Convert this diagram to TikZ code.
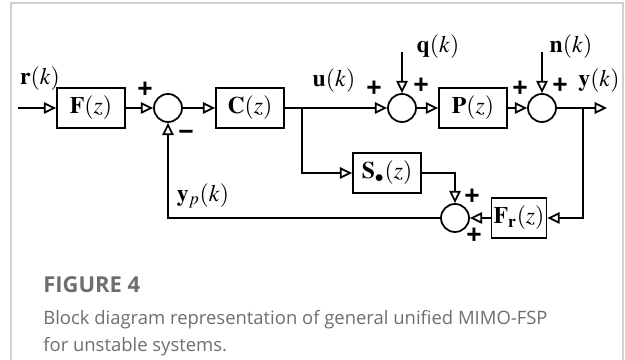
\documentclass[tikz,border=0pt]{standalone}
\usepackage{amsmath}
\usepackage{mathptmx}
\usepackage{fontspec}
\newfontfamily\capfont{Open Sans}
\newfontfamily\sgnfont{Liberation Sans}
\usepackage{xcolor}
\usetikzlibrary{arrows.meta,positioning}
\definecolor{framegray}{HTML}{CFCFCF}
\definecolor{capgray}{HTML}{6E6E6E}

\begin{document}
\begin{tikzpicture}[
  >={Triangle[open,length=7pt,width=6.5pt]}, font=\fontsize{13.5}{15}\selectfont,
  blk/.style={draw,line width=1pt,minimum width=1.36cm,minimum height=0.8cm,inner sep=0pt},
  sum/.style={circle,draw,line width=1pt,minimum size=0.56cm,inner sep=0pt},
  sig/.style={->,line width=1pt},
  wire/.style={line width=1pt},
  sgn/.style={font=\sgnfont\bfseries\fontsize{15}{16}\selectfont,inner sep=0pt},
  lab/.style={inner sep=1pt}
]
\useasboundingbox (0,0) rectangle (12.5,7.2);
\draw[framegray,line width=0.8pt] (0.22,0) -- (0.22,7.14) -- (12.46,7.14) -- (12.46,0);

% forward path
\coordinate (in) at (0.36,5.04);
\node[blk] (F)  at (1.82,5.04) {$\mathbf{F}(z)$};
\node[sum] (s1) at (3.36,5.04) {};
\node[blk] (C)  at (5.00,5.04) {$\mathbf{C}(z)$};
\coordinate (br1) at (6.04,5.04);
\node[sum] (s2) at (8.04,5.04) {};
\node[blk] (P)  at (9.46,5.04) {$\mathbf{P}(z)$};
\node[sum] (s3) at (10.84,5.04) {};
\coordinate (br2) at (11.66,5.04);
\coordinate (out) at (12.14,5.04);
\coordinate (qin) at (8.04,6.16);
\coordinate (nin) at (10.84,6.16);

% predictor path
\node[blk] (S)  at (7.74,3.74) {$\mathbf{S}_{\bullet}(z)$};
\node[sum] (s4) at (9.10,2.84) {};
\node[blk,minimum width=1.1cm] (Fr) at (10.38,2.84) {$\mathbf{F}_{\mathbf{r}}(z)$};

\draw[sig] (in) -- (F);
\draw[sig] (F) -- (s1);
\draw[sig] (s1) -- (C);
\draw[wire] (C) -- (br1);
\draw[sig] (br1) -- (s2);
\draw[sig] (br1) |- (S);
\draw[sig] (qin) -- (s2);
\draw[sig] (s2) -- (P);
\draw[sig] (P) -- (s3);
\draw[sig] (nin) -- (s3);
\draw[wire] (s3) -- (br2);
\draw[sig] (br2) -- (out);
\draw[sig] (br2) |- (Fr);
\draw[sig] (S) -| (s4);
\draw[sig] (Fr) -- (s4);
\draw[sig] (s4) -| (s1);

% signal labels
\node[lab] (rl)  at (0.80,5.62) {$\mathbf{r}(k)$};
\node[lab] (ul)  at (6.68,5.58) {$\mathbf{u}(k)$};
\node[lab] (ql)  at (8.76,6.26) {$\mathbf{q}(k)$};
\node[lab] (nl)  at (11.42,6.26) {$\mathbf{n}(k)$};
\node[lab] (yl)  at (11.98,5.58) {$\mathbf{y}(k)$};
\node[lab] (ypl) at (4.06,3.28) {$\mathbf{y}_p(k)$};

% signs
\node[sgn] at (2.90,5.40) {+};
\node[sgn] at (3.72,4.50) {−};
\node[sgn] at (7.48,5.42) {+};
\node[sgn] at (8.42,5.48) {+};
\node[sgn] at (10.40,5.42) {+};
\node[sgn] at (11.20,5.48) {+};
\node[sgn] at (9.44,3.26) {+};
\node[sgn] at (9.48,2.48) {+};

% caption
\node[anchor=base west,inner sep=0pt,text=capgray,font=\capfont\bfseries\fontsize{12.5}{14}\selectfont] (fig) at (0.86,1.34) {FIGURE 4};
\node[anchor=base west,inner sep=0pt,text=capgray,align=left,
      font=\capfont\fontsize{10.5}{15.9}\selectfont] (cap) at (0.86,0.16)
  {Block diagram representation of general unified MIMO-FSP\\for unstable systems.};
\end{tikzpicture}
\end{document}
